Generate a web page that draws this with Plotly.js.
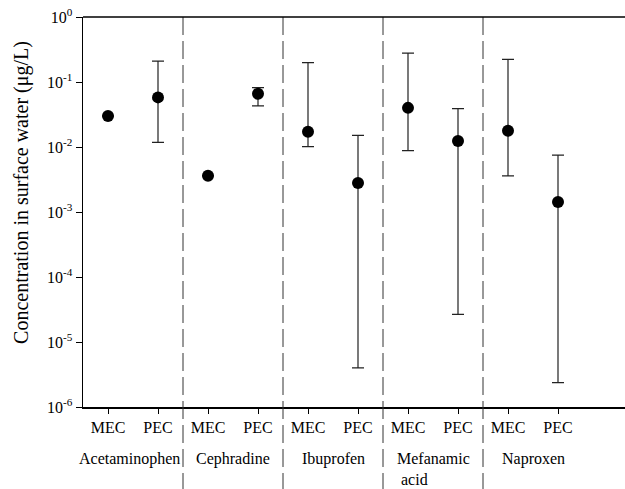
<!DOCTYPE html>
<html>
<head>
<meta charset="utf-8">
<script src="https://cdn.plot.ly/plotly-3.0.1.min.js"></script>
<style>html,body{margin:0;padding:0;background:#fff;}#chart{width:625px;height:489px;}</style>
</head>
<body>
<div id="chart"></div>
<script>
// Drugs (groups) and sample types
const drugs = ["Acetaminophen", "Cephradine", "Ibuprofen", "Mefanamic<br>&nbsp;acid", "Naproxen"];
const sampleTypes = ["MEC", "PEC"];
// Point values (µg/L), order: drug1 MEC, drug1 PEC, drug2 MEC, ...
const values = [0.030, 0.058, 0.0036, 0.066, 0.0172, 0.0028, 0.040, 0.0124, 0.0178, 0.00143];
// Upper and lower ends of ranges (null = no range shown)
const upper  = [null, 0.21, null, 0.082, 0.198, 0.0151, 0.279, 0.0389, 0.223, 0.0075];
const lower  = [null, 0.0118, null, 0.0428, 0.0101, 0.0000040, 0.0088, 0.0000267, 0.0036, 0.00000237];
// Y axis tick labels
const yTickExps = [-6, -5, -4, -3, -2, -1, 0];
const yTickText = yTickExps.map(e => "10<sup>" + e + "</sup>");

const xpos = values.map((v, i) => i + 1);
const tickText = xpos.map((x, i) => sampleTypes[i % 2]);
const errPlus = values.map((v, i) => upper[i] === null ? null : upper[i] - v);
const errMinus = values.map((v, i) => lower[i] === null ? null : v - lower[i]);

const font = "Liberation Serif, Times New Roman, serif";

const trace = {
  x: xpos, y: values, type: "scatter", mode: "markers",
  marker: {color: "#000", size: 12},
  error_y: {type: "data", symmetric: false, array: errPlus, arrayminus: errMinus,
            color: "#222", thickness: 1.2, width: 6},
  showlegend: false, hoverinfo: "skip"
};

const shapes = [];
const annotations = [];
drugs.forEach((d, g) => {
  const center = 2 * g + 1.5;
  annotations.push({
    x: center, y: -0.104, xref: "x", yref: "paper", text: d, showarrow: false,
    xanchor: "center", yanchor: "top", align: "left", xshift: g === 0 ? -4 : 0,
    font: {family: font, size: 16, color: "#000"}
  });
  if (g > 0) {
    shapes.push({type: "line", xref: "x", yref: "paper", x0: 2 * g + 0.5, x1: 2 * g + 0.5,
      y0: 1, y1: -0.215, line: {color: "#333", width: 1, dash: "18px,6px"}});
  }
});
shapes.push({type: "line", xref: "paper", yref: "paper", x0: 0, x1: 1, y0: 1, y1: 1,
  line: {color: "#000", width: 1.5}});
annotations.push({
  x: -0.1125, y: 0.549, xref: "paper", yref: "paper", textangle: -90, showarrow: false,
  text: "Concentration in surface water (μg/L)", xanchor: "center", yanchor: "middle",
  font: {family: font, size: 20, color: "#000"}
});

const layout = {
  width: 625, height: 489,
  margin: {l: 83, r: 0, t: 17, b: 82},
  paper_bgcolor: "#fff", plot_bgcolor: "#fff",
  font: {family: font, color: "#000", size: 16},
  xaxis: {
    range: [0.5, 11.34], tickvals: xpos, ticktext: tickText,
    showgrid: false, zeroline: false, showline: true, linecolor: "#000", linewidth: 1.5,
    ticks: "outside", ticklen: 5, tickcolor: "#000", tickwidth: 1,
    tickfont: {family: font, size: 16, color: "#000"}, fixedrange: true
  },
  yaxis: {
    type: "log", range: [-6, 0],
    tickvals: yTickExps.map(e => Math.pow(10, e)), ticktext: yTickText,
    showgrid: false, zeroline: false, showline: true, linecolor: "#000", linewidth: 1.5,
    ticks: "outside", ticklen: 6, tickcolor: "#000", tickwidth: 1,
    tickfont: {family: font, size: 16, color: "#000"},
    fixedrange: true
  },
  shapes: shapes, annotations: annotations
};

Plotly.newPlot("chart", [trace], layout, {displayModeBar: false, staticPlot: true});
</script>
</body>
</html>
